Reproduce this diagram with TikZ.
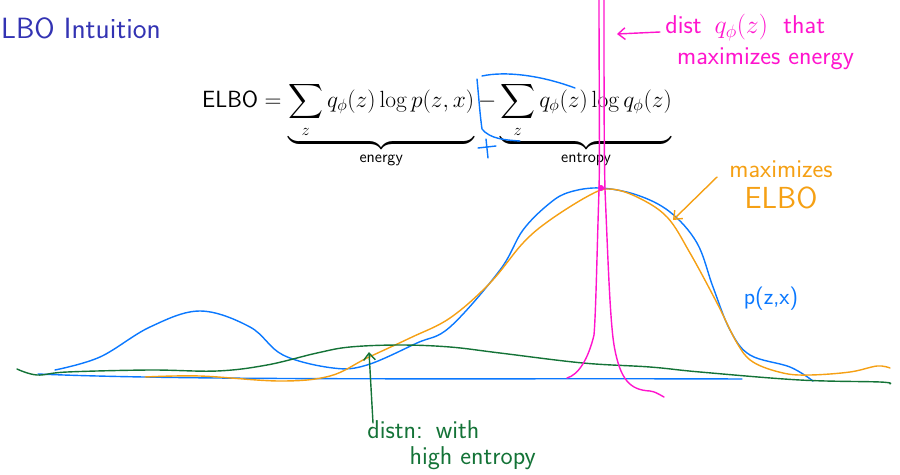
\RequirePackage{fix-cm}
\documentclass[tikz,border=0pt]{standalone}
\usepackage{amsmath}
\usetikzlibrary{arrows.meta, positioning}
\definecolor{titleblue}{RGB}{51,51,179}
\definecolor{inkblue}{RGB}{10,120,255}
\definecolor{inkorange}{RGB}{245,160,20}
\definecolor{inkgreen}{RGB}{20,115,55}
\definecolor{inkpink}{RGB}{255,20,205}

\begin{document}
\begin{tikzpicture}[x=0.03cm, y=-0.03cm,
    ink/.style={line width=1.2pt, line cap=round, line join=round},
    hand/.style={font=\sffamily\fontsize{22}{26}\selectfont, inner sep=1pt, align=left},
    inkarrow/.style={ink, -{Straight Barb[length=6pt, width=10pt]}}]
\useasboundingbox (0,0) rectangle (900,474);
% title and formula
\node[anchor=base west, inner sep=0pt, text=titleblue,
      font=\sffamily\fontsize{25}{30}\selectfont] (title) at (1,38) {LBO Intuition};
\node[anchor=base west, inner sep=0pt, font=\sffamily\fontsize{20}{24}\selectfont] (elbo) at (202,107)
  {$\text{\fontsize{20}{22}\selectfont ELBO} = \underbrace{\sum_z q_\phi(z)\log p(z,x)}_{\textsf{energy}}
    - \underbrace{\sum_z q_\phi(z)\log q_\phi(z)}_{\textsf{entropy}}$};
% blue bracket and plus
\draw[ink, inkblue] (482,76) .. controls (505,71) and (540,75) .. (575,88);
\draw[ink, inkblue] (477,79) .. controls (479,100) and (480,115) .. (482,129)
  .. controls (490,139) and (505,140) .. (520,141);
\draw[ink, inkblue] (478,148) -- (496,146);
\draw[ink, inkblue] (486,139) -- (488,158);
% curves
\draw[ink, inkblue] (38,374) .. controls (200,381) and (500,378) .. (742,379);
\draw[ink, inkblue] plot[smooth, tension=0.6] coordinates {
  (55,370) (100,357) (150,327) (200,311) (250,327) (283,355) (333,368) (367,365)
  (417,343) (450,327) (500,270) (523,230) (550,203) (570,192) (600,188) (637,195)
  (670,212) (697,243) (713,287) (730,330) (750,355) (790,367) (813,381)};
\draw[ink, inkorange] plot[smooth, tension=0.6] coordinates {
  (145,377) (200,376) (280,381) (330,376) (367,358) (410,338) (450,318) (490,283)
  (523,243) (550,220) (590,195) (610,189) (637,197) (667,217) (690,253) (717,303)
  (737,343) (753,362) (783,373) (810,375) (850,372) (877,366) (890,368)};
\draw[ink, inkgreen] plot[smooth, tension=0.6] coordinates {
  (17,369) (37,375) (67,372) (150,370) (217,371) (267,365) (317,353) (350,347)
  (400,345) (450,347) (500,353) (583,363) (650,367) (700,372) (800,380) (880,382) (890,384)};
% narrow q
\draw[ink, inkpink] (599,0) .. controls (599,80) and (600,150) .. (599,190)
  .. controls (597,250) and (596,310) .. (594,335)
  .. controls (588,360) and (578,375) .. (567,378);
\draw[ink, inkpink] (604,0) .. controls (604,80) and (604,150) .. (605,190)
  .. controls (608,260) and (610,320) .. (614,345)
  .. controls (620,380) and (630,390) .. (650,391) .. controls (655,392) .. (664,397);
\fill[inkpink] (601,188) circle (3);
% handwritten notes
\node[hand, text=inkpink, anchor=west] (qnote) at (664,42)
  {dist\hspace{0.5em}$q_\phi(z)$\hspace{0.6em}that\\[0pt] \hspace*{10pt}maximizes energy};
\coordinate (qtip) at (617,34);
\draw[inkarrow, inkpink] (660,32) -- (qtip);
\node[hand, text=inkorange, align=center] (elbonote) at (781,185)
  {maximizes\\[0pt] {\fontsize{26}{28}\selectfont ELBO}};
\coordinate (elbotip) at (673,220);
\draw[inkarrow, inkorange] (717,177) -- (elbotip);
\node[hand, text=inkblue, font=\sffamily\fontsize{20}{24}\selectfont] (pnote) at (771,299) {p(z,x)};
\node[hand, text=inkgreen, anchor=west] (gnote) at (366,445)
  {distn:\hspace{0.5em}with\\[-4pt] \hspace*{36pt}high entropy};
\coordinate (gtip) at (369,352);
\draw[inkarrow, inkgreen] (373,423) -- (gtip);
\end{tikzpicture}
\end{document}
